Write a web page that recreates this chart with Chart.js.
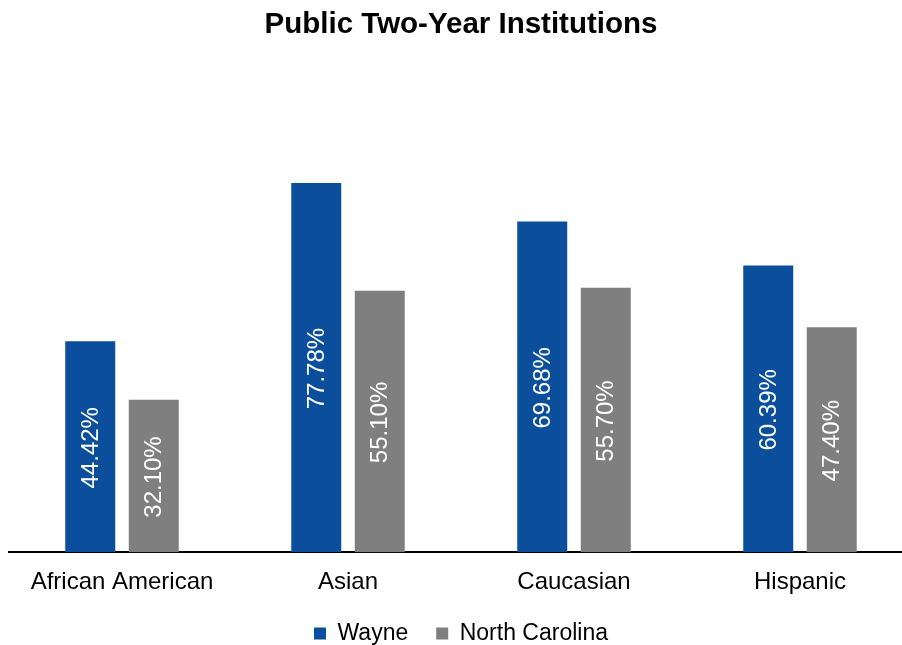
<!DOCTYPE html>
<html>
<head>
<meta charset="utf-8">
<script src="https://cdn.jsdelivr.net/npm/chart.js@4.4.0/dist/chart.umd.min.js"></script>
<style>
  html, body { margin: 0; padding: 0; background: #fff; overflow: hidden; }
  #wrap { width: 920px; height: 655px; }
</style>
</head>
<body>
<div id="wrap"><canvas id="chart"></canvas></div>
<script>
// data
const categories = ['African American', 'Asian', 'Caucasian', 'Hispanic'];
const wayneValues = [44.42, 77.78, 69.68, 60.39];
const ncValues = [32.10, 55.10, 55.70, 47.40];
const seriesNames = ['Wayne', 'North Carolina'];

const BLUE = '#0b4f9c';
const GRAY = '#7f7f7f';
const FONT = "'Liberation Sans', Arial, sans-serif";

// white rotated labels, centered in each bar
const barLabels = {
  id: 'barLabels',
  afterDatasetsDraw(chart) {
    const ctx = chart.ctx;
    ctx.save();
    ctx.fillStyle = '#ffffff';
    ctx.font = '24px ' + FONT;
    ctx.textAlign = 'center';
    ctx.textBaseline = 'middle';
    chart.data.datasets.forEach((ds, i) => {
      chart.getDatasetMeta(i).data.forEach((bar, j) => {
        const cy = (bar.y + bar.base) / 2;
        ctx.save();
        ctx.translate(bar.x, cy);
        ctx.rotate(-Math.PI / 2);
        ctx.fillText(ds.data[j].toFixed(2) + '%', -1, 1);
        ctx.restore();
      });
    });
    ctx.restore();
  }
};

new Chart(document.getElementById('chart'), {
  type: 'bar',
  data: {
    labels: categories,
    datasets: [
      { label: seriesNames[0], data: wayneValues, backgroundColor: BLUE },
      { label: seriesNames[1], data: ncValues, backgroundColor: GRAY }
    ]
  },
  options: {
    responsive: true,
    maintainAspectRatio: false,
    animation: false,
    categoryPercentage: 0.562,
    barPercentage: 0.787,
    layout: { padding: { left: 9, right: 7, bottom: 0 } },
    plugins: {
      title: {
        display: true,
        text: 'Public Two-Year Institutions',
        color: '#000',
        font: { family: FONT, size: 29.5, weight: 'bold' },
        padding: { top: 7, bottom: 82.6 }
      },
      legend: {
        position: 'bottom',
        labels: {
          color: '#000',
          font: { family: FONT, size: 23 },
          boxWidth: 12,
          boxHeight: 12,
          padding: 28
        }
      },
      tooltip: { enabled: false }
    },
    scales: {
      x: {
        grid: { display: false, drawTicks: false },
        border: { display: true, color: '#000', width: 2 },
        ticks: { color: '#000', font: { family: FONT, size: 24 }, padding: 16, maxRotation: 0 },
        afterFit(scale) { scale.height -= 19; }
      },
      y: {
        display: false,
        min: 0,
        max: 90
      }
    }
  },
  plugins: [barLabels]
});
</script>
</body>
</html>
